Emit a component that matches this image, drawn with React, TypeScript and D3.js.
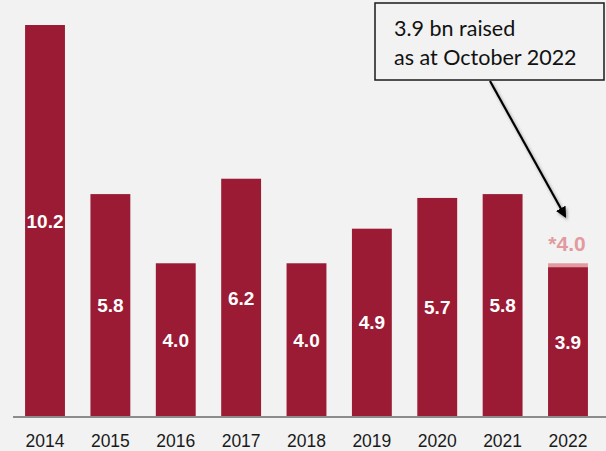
import React from 'react';
import * as d3 from 'd3';

const years = ['2014', '2015', '2016', '2017', '2018', '2019', '2020', '2021', '2022'];
const raised = [10.2, 5.8, 4.0, 6.2, 4.0, 4.9, 5.7, 5.8, 3.9];
const projected2022 = 4.0;
const noteLines = ['3.9 bn raised', 'as at October 2022'];

const W = 606;
const H = 451;
const BAR = '#9b1b34';
const PINK = '#e29a9f';

export default function App() {
  const x = d3.scaleBand<string>().domain(years).range([12, 601]).paddingInner(0.39).paddingOuter(0.2);
  const y = d3.scaleLinear().domain([0, 10.2]).range([417, 25]);
  const last = years[years.length - 1];

  return (
    <svg width={W} height={H} style={{ position: 'absolute', left: 0, top: 0, background: '#f2f2f2' }}>
      <defs>
        <marker id="head" viewBox="0 0 10 10" refX="8" refY="5" markerWidth="5" markerHeight="5" orient="auto">
          <path d="M0,0 L10,5 L0,10 z" fill="#000" />
        </marker>
        <filter id="shadow" x="-20%" y="-20%" width="140%" height="140%">
          <feDropShadow dx="1.5" dy="2" stdDeviation="1.5" floodOpacity="0.35" />
        </filter>
      </defs>

      {years.map((yr, i) => (
        <g key={yr}>
          <rect x={x(yr)} y={y(raised[i])} width={x.bandwidth()} height={y(0) - y(raised[i])} fill={BAR} />
          <text
            x={x(yr)! + x.bandwidth() / 2}
            y={(y(raised[i]) + y(0)) / 2}
            dy="0.35em"
            textAnchor="middle"
            fill="#fff"
            fontFamily="Liberation Sans, Arial, sans-serif"
            fontWeight="bold"
            fontSize={19}
          >
            {raised[i].toFixed(1)}
          </text>
          <text
            x={x(yr)! + x.bandwidth() / 2}
            y={447}
            textAnchor="middle"
            fill="#1a1a1a"
            fontFamily="Liberation Sans, Arial, sans-serif"
            fontSize={17.5}
          >
            {yr}
          </text>
        </g>
      ))}

      {/* projected top slice for 2022 */}
      <rect
        x={x(last)}
        y={y(projected2022)}
        width={x.bandwidth()}
        height={y(raised[raised.length - 1]) - y(projected2022)}
        fill={PINK}
      />
      <text
        x={x(last)! + x.bandwidth() / 2 - 1}
        y={244}
        dy="0.35em"
        textAnchor="middle"
        fill={PINK}
        fontFamily="Liberation Sans, Arial, sans-serif"
        fontWeight="bold"
        fontSize={21}
      >
        *{projected2022.toFixed(1)}
      </text>

      <line x1={13} x2={W} y1={y(0)} y2={y(0)} stroke="#8c8c8c" strokeWidth={2} />

      {/* callout */}
      <rect x={375} y={3} width={229} height={77} fill="#f2f2f2" stroke="#1a1a1a" strokeWidth={1.5} />
      {noteLines.map((t, i) => (
        <text key={t} x={394} y={36 + i * 29} fontFamily="Lato, Open Sans, sans-serif" fontSize={21.5} fill="#111">
          {t}
        </text>
      ))}
      <line
        x1={490}
        y1={81}
        x2={565}
        y2={216}
        stroke="#000"
        strokeWidth={2.2}
        markerEnd="url(#head)"
        filter="url(#shadow)"
      />
    </svg>
  );
}
